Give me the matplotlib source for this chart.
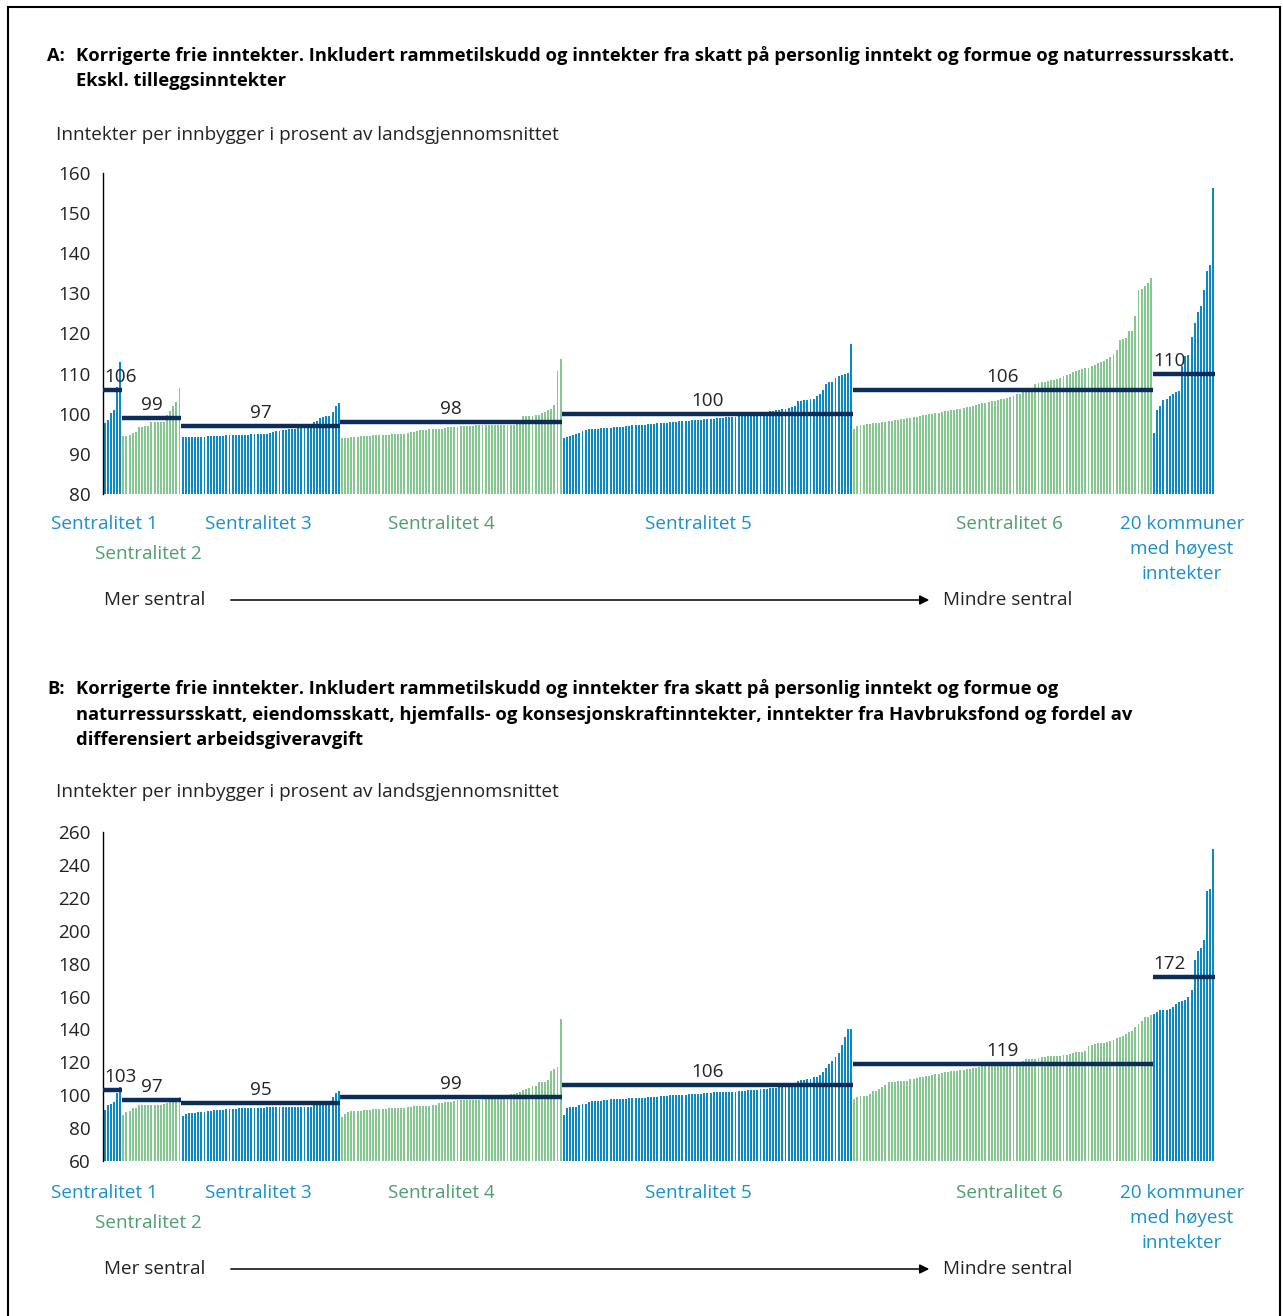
import matplotlib.pyplot as plt
from matplotlib.patches import Rectangle

# --- canvas ---
W, H = 1283, 1316
DPI = 100

BLUE = '#0a89c4'
GREEN = '#84c78f'
NAVY = '#0c2d57'
BLUE_TXT = '#1b8fcf'
GREEN_TXT = '#4f9e70'
TEXT_COLOR = '#222222'
FONT = ['Open Sans', 'DejaVu Sans']
FS = 13.6        # regular text
FS_BOLD = 13.2   # panel titles

# --- data: panel A ---
a_s1 = [97.8, 98.5, 100.3, 101.0, 106.6, 112.9]
a_s2 = [94.5, 94.5, 94.7, 95.1, 95.5, 96.6, 96.8, 97.0, 97.0, 98.0, 98.0, 98.0, 98.0, 98.0,
        99.7, 100.8, 102.0, 103.0, 106.5]
a_s3 = [94.1, 94.1, 94.1, 94.1, 94.1, 94.1, 94.2, 94.2, 94.4, 94.4, 94.4, 94.4, 94.4, 94.4,
        94.6, 94.7, 94.7, 94.7, 94.7, 94.8, 94.8, 94.8, 95.0, 95.0, 95.0, 95.0, 95.0, 95.0,
        95.3, 95.5, 95.6, 95.6, 96.0, 96.0, 96.1, 96.1, 96.2, 96.6, 96.7, 96.9, 96.9, 96.9,
        98.0, 98.3, 98.9, 99.2, 99.4, 99.5, 100.5, 102.0, 102.8]
a_s4 = [94.0, 94.0, 94.0, 94.1, 94.1, 94.3, 94.4, 94.4, 94.4, 94.5, 94.6, 94.7, 94.7, 94.7,
        94.8, 94.8, 94.9, 94.9, 95.0, 95.0, 95.0, 95.1, 95.4, 95.5, 95.8, 95.9, 95.9, 95.9,
        96.1, 96.1, 96.1, 96.3, 96.3, 96.4, 96.6, 96.6, 96.7, 96.7, 97.0, 97.0, 97.0, 97.0,
        97.0, 97.1, 97.1, 97.1, 97.1, 97.2, 97.2, 97.2, 97.2, 97.2, 97.3, 97.3, 97.3, 97.3,
        97.4, 97.4, 99.4, 99.4, 99.4, 99.5, 99.6, 99.6, 100.2, 100.5, 100.9, 101.3, 102.1,
        110.6, 113.6]
a_s5 = [93.9, 94.1, 94.4, 94.8, 95.0, 95.3, 95.6, 95.9, 96.1, 96.2,
        96.3, 96.3, 96.4, 96.4, 96.5, 96.5, 96.6, 96.7, 96.8, 96.8, 96.9, 97.0, 97.1, 97.2,
        97.2, 97.3, 97.3, 97.4, 97.5, 97.5, 97.6, 97.6, 97.7, 97.8, 97.9, 97.9, 98.0, 98.1,
        98.2, 98.2, 98.3,
        98.4, 98.4, 98.5, 98.5, 98.6, 98.7, 98.7, 98.8, 98.9, 99.0, 99.0, 99.1, 99.2, 99.3,
        99.3, 99.4, 99.5, 99.6, 99.7,
        99.9, 100.0, 100.1, 100.2, 100.4, 100.5, 100.6, 100.7, 100.9, 101.0, 101.2, 101.3,
        101.5, 101.7, 101.9,
        103.2, 103.3, 103.4, 103.4, 103.6, 103.8,
        104.5, 105.0, 105.9, 107.4, 108.0, 108.0,
        109.0, 109.3, 109.6, 109.9, 110.2, 117.4]
a_s6 = [96.1, 97.0, 97.2, 97.3, 97.4, 97.5, 97.6, 97.7, 97.8, 97.9, 98.0,
        98.1, 98.2, 98.4, 98.5, 98.7, 98.8, 98.9, 99.0, 99.2, 99.3,
        99.5, 99.6, 99.8, 99.9, 100.0, 100.2, 100.3, 100.5, 100.6, 100.8,
        101.0, 101.0, 101.1, 101.2, 101.4, 101.6, 101.8, 102.0, 102.2, 102.5,
        102.7, 102.8, 102.9, 103.1, 103.3, 103.5, 103.7, 103.8, 104.0, 104.2,
        104.5, 104.8, 105.0, 105.3, 105.5, 105.8,
        106.5, 107.4, 107.6, 107.8, 108.0, 108.2, 108.4, 108.4, 108.6,
        109.0, 109.4, 109.7, 110.0, 110.3, 110.6, 110.9, 111.1, 111.3, 111.5,
        111.8, 112.1, 112.6, 113.0, 113.2, 113.6, 114.2, 115.0,
        116.0, 118.3, 118.6, 118.8, 120.5, 120.5,
        124.4, 130.8, 131.2, 131.8, 132.5, 133.8]
a_top = [95.1, 100.9, 101.9, 103.4, 103.6, 104.4, 104.9, 105.3, 105.6, 111.9, 114.4, 114.7,
         119.1, 122.6, 125.3, 126.9, 130.9, 135.6, 137.1, 156.2]
a_means = [106, 99, 97, 98, 100, 106, 110]

# --- data: panel B ---
b_s1 = [90.9, 94.1, 94.9, 96.0, 101.5, 105.1]
b_s2 = [88.0, 89.9, 90.5, 92.1, 92.5, 94.0, 94.0, 94.0, 94.0, 94.0, 94.0, 94.0, 94.3, 94.5,
        95.0, 96.6, 97.0, 98.0, 99.0]
b_s3 = [87.4, 88.5, 89.0, 89.0, 89.3, 89.5, 89.5, 90.0, 90.5, 90.5, 90.9,
        90.9, 91.0, 91.0, 91.5, 91.5, 91.7,
        91.7, 92.0, 92.0, 92.0, 92.2,
        92.4, 92.5, 92.5, 92.5, 92.5, 92.6, 92.6, 92.6, 92.6, 92.7, 92.7, 92.7, 92.7, 92.8,
        92.8, 92.8, 92.8, 92.9, 92.9, 92.9,
        94.5, 94.9, 95.0, 95.2, 95.2, 95.2,
        99.0, 101.5, 102.7]
b_s4 = [86.8, 88.5, 89.5, 90.5,
        90.5, 90.5, 90.5, 91.0, 91.0, 91.2, 91.5,
        91.6, 91.7, 91.8, 91.9, 92.0, 92.1, 92.2, 92.3, 92.4, 92.5,
        93.0, 93.1, 93.2, 93.3, 93.4, 93.5, 93.6, 93.7, 93.8, 94.0,
        95.0, 95.3, 95.6, 95.8, 96.0, 96.5,
        97.0, 97.0, 97.0, 97.1, 97.1, 97.2, 97.2, 97.3, 97.4, 97.5,
        98.0, 98.3, 98.6, 99.0, 99.3, 99.6,
        100.3, 100.7, 101.0, 101.6, 102.0,
        103.0, 103.7, 104.5, 105.5, 105.7,
        108.2, 108.2, 108.2, 109.2,
        114.5, 116.1, 117.3, 146.4]
b_s5 = [88.0,
        92.5, 92.7, 92.9, 93.0,
        94.0, 94.6, 94.8, 95.6,
        96.2, 96.6, 96.6, 96.6,
        97.0, 97.2, 97.4, 97.6, 97.6, 97.6, 97.8, 97.8,
        98.0, 98.1, 98.2, 98.4, 98.5, 98.6, 98.8, 98.9, 99.0, 99.2,
        99.6, 99.7, 99.8, 99.9, 100.0, 100.1, 100.2, 100.3, 100.4, 100.5, 100.6, 100.7,
        100.8, 101.0,
        101.5, 101.5, 101.6, 101.7, 101.8, 101.8, 101.9, 102.0, 102.0, 102.1, 102.2, 102.3,
        102.7, 102.8, 103.0, 103.1, 103.3, 103.4, 103.6, 103.7,
        104.0, 104.2, 104.4, 104.6, 104.8, 105.0, 105.1,
        105.3, 105.6, 106.7, 108.5, 109.0,
        109.2, 109.6, 110.0, 110.8, 111.0, 112.0, 113.8,
        116.5, 119.0, 121.0, 123.0, 125.4, 130.7, 135.2, 140.3, 140.3]
b_s6 = [97.6, 99.0, 99.6, 99.6, 99.6, 100.7,
        102.7, 102.7, 103.7, 104.7, 106.3, 107.8, 107.8,
        108.2, 108.8, 108.8, 108.8, 108.8,
        109.8, 109.8, 110.3, 110.8, 111.3, 111.8, 111.8, 112.5,
        112.8, 113.0, 113.3, 113.8, 114.0, 114.5, 114.9, 115.0, 115.2, 115.5,
        116.0, 116.2, 116.5, 116.8, 117.2, 117.5, 118.0, 118.2,
        118.5, 118.6, 118.7, 118.8, 118.9, 119.0, 119.1, 119.2, 119.4, 119.5,
        121.0, 122.0, 122.0, 122.0, 122.0,
        122.6, 123.4, 123.4, 123.7, 124.0, 124.0, 124.0, 124.0,
        124.6, 124.6, 125.0, 125.5, 126.0, 126.0, 126.0, 127.0,
        130.0, 130.6, 131.1, 131.6, 131.6, 132.0, 132.5, 133.2,
        133.5, 134.5, 135.2, 136.0, 137.2, 138.2, 139.0,
        141.3, 143.0, 145.4, 147.8, 147.8, 149.0]
b_top = [149.4, 150.4, 151.5, 151.9, 151.9, 152.5, 153.5, 155.5, 156.5, 157.0, 157.6, 160.0,
         164.0, 182.0, 187.4, 189.5, 194.1, 224.2, 225.2, 249.6]
b_means = [103, 97, 95, 99, 106, 119, 172]

group_names = [['Sentralitet 1'], ['Sentralitet 2'], ['Sentralitet 3'], ['Sentralitet 4'],
               ['Sentralitet 5'], ['Sentralitet 6'], ['20 kommuner', 'med høyest', 'inntekter']]
group_colors = [BLUE, GREEN, BLUE, GREEN, BLUE, GREEN, BLUE]
label_colors = [BLUE_TXT, GREEN_TXT, BLUE_TXT, GREEN_TXT, BLUE_TXT, GREEN_TXT, BLUE_TXT]

title_a = ['Korrigerte frie inntekter. Inkludert rammetilskudd og inntekter fra skatt på '
           'personlig inntekt og formue og naturressursskatt.',
           'Ekskl. tilleggsinntekter']
title_b = ['Korrigerte frie inntekter. Inkludert rammetilskudd og inntekter fra skatt på '
           'personlig inntekt og formue og',
           'naturressursskatt, eiendomsskatt, hjemfalls- og konsesjonskraftinntekter, '
           'inntekter fra Havbruksfond og fordel av',
           'differensiert arbeidsgiveravgift']
ylabel_text = 'Inntekter per innbygger i prosent av landsgjennomsnittet'


def fx(px):
    return px / W


def fy(py):
    return 1 - py / H


def draw_panel(fig, ax, letter, groups, means, ylim, yticks, title, title_y, ylabel_y,
               label_y, arrow_y):
    x0 = 0
    for gi, vals in enumerate(groups):
        xs = list(range(x0, x0 + len(vals)))
        ax.bar(xs, [v - ylim[0] for v in vals], bottom=ylim[0], width=0.62,
               color=group_colors[gi], linewidth=0, zorder=2)
        left, right = x0 - 0.5, x0 + len(vals) - 0.5
        ax.hlines(means[gi], left, right, color=NAVY, lw=3.2, zorder=4)
        off = (ylim[1] - ylim[0]) * 0.012
        if gi in (0, len(groups) - 1):
            ax.text(left + 0.4, means[gi] + off, str(means[gi]), ha='left', va='bottom',
                    fontsize=FS, family=FONT, color=TEXT_COLOR, zorder=5)
        else:
            ax.text((left + right) / 2, means[gi] + off, str(means[gi]), ha='center',
                    va='bottom', fontsize=FS, family=FONT, color=TEXT_COLOR, zorder=5)
        x0 += len(vals)

    ax.set_xlim(-0.5, x0 - 0.5)
    ax.set_ylim(*ylim)
    ax.set_yticks(yticks)
    ax.set_yticklabels([str(t) for t in yticks], fontsize=FS, family=FONT, color=TEXT_COLOR)
    ax.set_xticks([])
    ax.tick_params(axis='y', length=0, pad=9)
    for s in ['top', 'right', 'bottom']:
        ax.spines[s].set_visible(False)
    ax.spines['left'].set_linewidth(1.0)
    ax.spines['left'].set_color('black')

    # panel title, one text per line
    fig.text(fx(47), fy(title_y), letter, fontsize=FS_BOLD, fontweight='bold', family=FONT,
             color='black', ha='left', va='center')
    for li, line in enumerate(title):
        fig.text(fx(76), fy(title_y + li * 25.5), line, fontsize=FS_BOLD, fontweight='bold',
                 family=FONT, color='black', ha='left', va='center')
    fig.text(fx(56), fy(ylabel_y), ylabel_text, fontsize=FS, family=FONT, color=TEXT_COLOR,
             ha='left', va='center')

    # group labels under the bars
    label_x = [104, 148, 258, 441, 698, 1009, 1182]
    for gi, lines in enumerate(group_names):
        yy = label_y + (30 if gi == 1 else 0)
        for li, line in enumerate(lines):
            fig.text(fx(label_x[gi]), fy(yy + li * 25), line, fontsize=FS, family=FONT,
                     color=label_colors[gi], ha='center', va='center')

    # centrality arrow
    fig.text(fx(104), fy(arrow_y), 'Mer sentral', fontsize=FS, family=FONT, color=TEXT_COLOR,
             ha='left', va='center')
    fig.text(fx(943), fy(arrow_y), 'Mindre sentral', fontsize=FS, family=FONT, color=TEXT_COLOR,
             ha='left', va='center')
    ax.annotate('', xy=(fx(932), fy(arrow_y)), xytext=(fx(228), fy(arrow_y)),
                xycoords='figure fraction', textcoords='figure fraction',
                arrowprops=dict(arrowstyle='-|>', color='black', lw=1.1, mutation_scale=14),
                annotation_clip=False)


fig = plt.figure(figsize=(W / DPI, H / DPI), dpi=DPI)
fig.patch.set_facecolor('white')

ax_a = fig.add_axes([fx(103), fy(494), fx(1215 - 103), (494 - 173) / H])
ax_b = fig.add_axes([fx(103), fy(1161), fx(1215 - 103), (1161 - 832) / H])

draw_panel(fig, ax_a, 'A:', [a_s1, a_s2, a_s3, a_s4, a_s5, a_s6, a_top], a_means, (80, 160),
           list(range(80, 161, 10)), title_a, 56, 135, 524, 600)
draw_panel(fig, ax_b, 'B:', [b_s1, b_s2, b_s3, b_s4, b_s5, b_s6, b_top], b_means, (60, 260),
           list(range(60, 261, 20)), title_b, 689, 792, 1193, 1269)

# outer frame
fig.patches.append(Rectangle((fx(8), -0.01), fx(1280 - 8), fy(7) + 0.01,
                             transform=fig.transFigure, fill=False, ec='black', lw=1.5))

fig.savefig('out.png', dpi=DPI, facecolor='white')
